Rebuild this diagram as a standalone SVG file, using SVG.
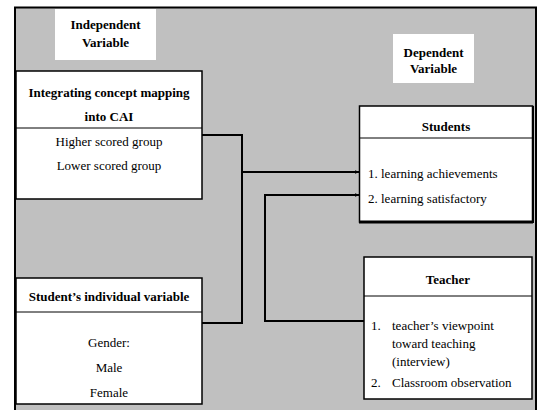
<svg xmlns="http://www.w3.org/2000/svg" width="538" height="410" viewBox="0 0 538 410">
<defs>
<style>
text{font-size:13px;fill:#000}
.b{font-weight:bold}
.c{text-anchor:middle}
.box{fill:#fff;stroke:#000;stroke-width:1.5}
.lbl{fill:#fff;stroke:none}
.ln{fill:none;stroke:#000;stroke-width:2}
</style>
<marker id="ah" viewBox="0 0 10 10" refX="9" refY="5" markerWidth="5" markerHeight="5" orient="auto" markerUnits="userSpaceOnUse">
<path d="M0,1 L10,5 L0,9 z" fill="#000"/>
</marker>
</defs>
<rect x="15" y="7.5" width="521" height="410" fill="#c0c0c0" stroke="#000" stroke-width="2"/>
<g id="connectors">
<path class="ln" d="M202,135 H242 V323 H202"/>
<path class="ln" d="M242,172 H359" marker-end="url(#ah)"/>
<path class="ln" d="M364,321 H265 V195 H359" marker-end="url(#ah)"/>
</g>
<g font-family="Liberation Serif">
<g id="indep-label">
<rect class="lbl" x="55" y="9" width="101" height="51"/>
<text class="b c" x="105.5" y="29">Independent</text>
<text class="b c" x="105.5" y="47">Variable</text>
</g>
<g id="dep-label">
<rect class="lbl" x="393" y="34" width="81" height="49"/>
<text class="b c" x="433.5" y="57">Dependent</text>
<text class="b c" x="433.5" y="73">Variable</text>
</g>
<g id="integrating">
<rect class="box" x="16" y="71" width="186" height="128"/>
<line x1="16" y1="128" x2="202" y2="128" stroke="#000" stroke-width="1"/>
<text class="b c" x="109" y="97">Integrating concept mapping</text>
<text class="b c" x="109" y="121">into CAI</text>
<text class="c" x="109" y="146">Higher scored group</text>
<text class="c" x="109" y="170">Lower scored group</text>
</g>
<g id="individual">
<rect class="box" x="16" y="278" width="186" height="126"/>
<line x1="16" y1="312" x2="202" y2="312" stroke="#000" stroke-width="1"/>
<text class="b c" x="109" y="301">Student’s individual variable</text>
<text class="c" x="109" y="347">Gender:</text>
<text class="c" x="109" y="372">Male</text>
<text class="c" x="109" y="397">Female</text>
</g>
<g id="students">
<rect class="box" x="359.5" y="106" width="173" height="116"/>
<line x1="359" y1="222" x2="533" y2="222" stroke="#000" stroke-width="3"/>
<line x1="533" y1="106" x2="533" y2="223" stroke="#000" stroke-width="2"/>
<line x1="359.5" y1="138" x2="532.5" y2="138" stroke="#000" stroke-width="1"/>
<text class="b c" x="446" y="131">Students</text>
<text x="368" y="178">1. learning achievements</text>
<text x="368" y="203">2. learning satisfactory</text>
</g>
<g id="teacher">
<rect class="box" x="364" y="257" width="168" height="142"/>
<line x1="364" y1="296" x2="532" y2="296" stroke="#000" stroke-width="1"/>
<text class="b c" x="448" y="284">Teacher</text>
<text x="371" y="330">1.</text>
<text x="392" y="330">teacher’s viewpoint</text>
<text x="392" y="348">toward teaching</text>
<text x="392" y="366">(interview)</text>
<text x="371" y="387">2.</text>
<text x="392" y="387">Classroom observation</text>
</g>
</g>
</svg>
